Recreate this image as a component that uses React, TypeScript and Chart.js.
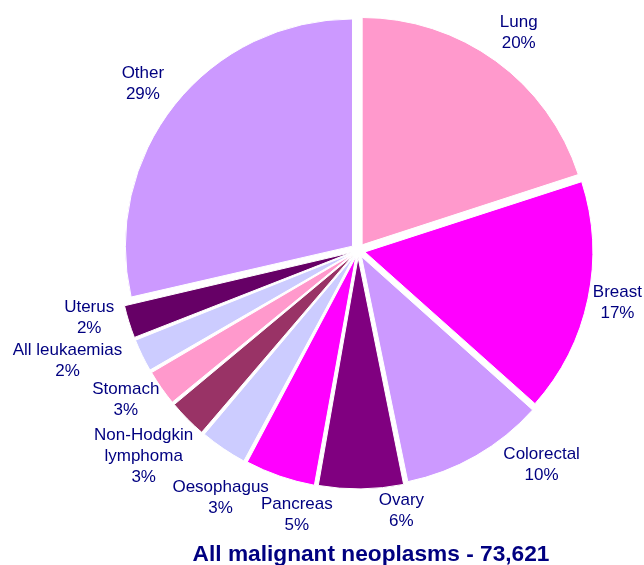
import React, { useEffect, useRef } from "react";
import { Chart, registerables } from "chart.js";

Chart.register(...registerables);

const categories = [
  "Lung",
  "Breast",
  "Colorectal",
  "Ovary",
  "Pancreas",
  "Oesophagus",
  "Non-Hodgkin\nlymphoma",
  "Stomach",
  "All leukaemias",
  "Uterus",
  "Other",
];
const shares = [20.0, 16.6, 10.2, 6.0, 5.0, 3.4, 2.8, 2.6, 2.4, 2.4, 28.6];
const sliceColors = [
  "#FF99CC",
  "#FF00FF",
  "#CC99FF",
  "#800080",
  "#FF00FF",
  "#CCCCFF",
  "#993366",
  "#FF99CC",
  "#CCCCFF",
  "#660066",
  "#CC99FF",
];
const titleText = "All malignant neoplasms - 73,621";

// layout constants for the label plugin
const SLICE_OFFSET = 28;
const LABEL_GAP = 12;
const LINE_H = 21;
const labelNudge: [number, number][] = [
  [5, -2],
  [0, -3],
  [42, -17],
  [40, -7],
  [31, 12],
  [28, 26],
  [-4, 11],
  [-3, -4],
  [-20, -6],
  [-10, -12],
  [-6, 0],
];

const labelPlugin = {
  id: "outLabels",
  afterDatasetsDraw(chart: any) {
    const ctx = chart.ctx as CanvasRenderingContext2D;
    const meta = chart.getDatasetMeta(0);
    const ds = chart.data.datasets[0];
    const total = (ds.data as number[]).reduce((a, b) => a + b, 0);
    ctx.save();
    ctx.font = '17px "Liberation Sans", Arial, sans-serif';
    ctx.fillStyle = "#000080";
    ctx.textAlign = "center";
    ctx.textBaseline = "middle";
    meta.data.forEach((arc: any, i: number) => {
      const { x, y, startAngle, endAngle, outerRadius } = arc.getProps(
        ["x", "y", "startAngle", "endAngle", "outerRadius"],
        true
      );
      const a = (startAngle + endAngle) / 2;
      const lines = [
        ...String(chart.data.labels[i]).split("\n"),
        Math.round(((ds.data[i] as number) / total) * 100) + "%",
      ];
      const w = Math.max(...lines.map((l) => ctx.measureText(l).width));
      const h = lines.length * LINE_H;
      const dist = outerRadius + SLICE_OFFSET / 4 + LABEL_GAP;
      let cx = x + Math.cos(a) * dist + (Math.cos(a) * w) / 2;
      let cy = y + Math.sin(a) * dist + (Math.sin(a) * h) / 2;
      cx += labelNudge[i][0];
      cy += labelNudge[i][1];
      cx = Math.min(Math.max(cx, w / 2 + 2), chart.width - w / 2 - 2);
      lines.forEach((l, k) => ctx.fillText(l, cx, cy - h / 2 + LINE_H * (k + 0.5)));
    });
    ctx.font = 'bold 22.7px "Liberation Sans", Arial, sans-serif';
    ctx.textBaseline = "alphabetic";
    ctx.fillText(titleText, chart.width / 2 + 49, 561);
    ctx.restore();
  },
};

export default function App() {
  const ref = useRef<HTMLCanvasElement | null>(null);
  useEffect(() => {
    if (!ref.current) return;
    const chart = new Chart(ref.current, {
      type: "pie",
      data: {
        labels: categories,
        datasets: [
          {
            data: shares,
            backgroundColor: sliceColors,
            borderColor: "#FFFFFF",
            borderWidth: 1,
            offset: SLICE_OFFSET,
            hoverOffset: 0,
            radius: 227,
          } as any,
        ],
      },
      options: {
        animation: false,
        responsive: false,
        layout: { padding: { left: 72, right: 0, top: 0, bottom: 64 } },
        plugins: {
          legend: { display: false },
          tooltip: { enabled: false },
          title: { display: false },
        },
      },
      plugins: [labelPlugin],
    });
    return () => chart.destroy();
  }, []);
  return (
    <div style={{ position: "fixed", left: 0, top: 0, width: 644, height: 565, background: "#fff" }}>
      <canvas ref={ref} width={644} height={565} />
    </div>
  );
}
